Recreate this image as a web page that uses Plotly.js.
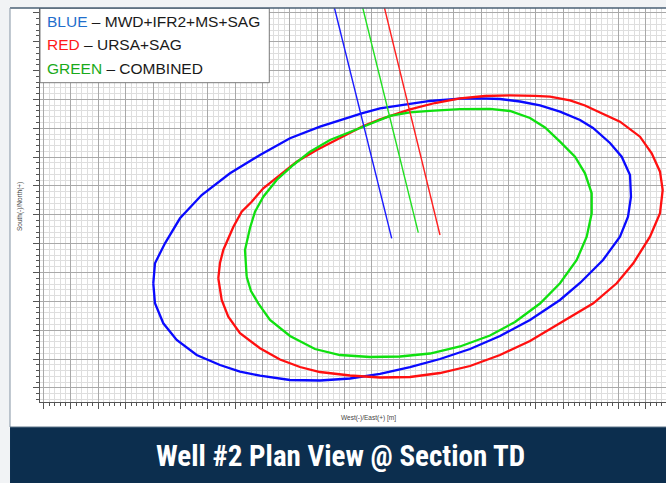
<!DOCTYPE html>
<html>
<head>
<meta charset="utf-8">
<script src="https://cdn.plot.ly/plotly-3.0.1.min.js"></script>
<style>html,body{margin:0;padding:0;background:#fff;}#chart{width:666px;height:483px;}</style>
</head>
<body>
<div id="chart"></div>
<script>
// Ellipse of uncertainty – BLUE (MWD+IFR2+MS+SAG), metres
var blueX = [-79.91,-79.29,-75.63,-72.60,-70.15,-62.21,-51.86,-40.90,-29.93,-18.96,-3.71,2.98,9.09,21.26,32.23,39.54,46.86,54.17,61.48,68.79,76.11,80.86,87.07,91.35,94.39,94.75,93.66,90.73,84.52,76.11,68.79,57.82,46.86,35.89,24.92,13.95,2.98,-7.99,-18.96,-29.93,-40.90,-48.21,-55.52,-64.04,-71.35,-76.25,-79.29,-79.91];
var blueY = [-13.74,-6.81,0.12,4.73,8.79,16.86,24.38,30.73,36.52,40.54,45.18,46.92,47.71,49.45,50.24,50.38,50.14,49.27,47.89,45.74,42.86,40.09,34.89,30.14,23.80,16.27,9.34,2.41,-5.67,-13.64,-19.53,-26.46,-32.01,-36.52,-39.98,-42.76,-45.18,-46.74,-47.43,-47.26,-45.77,-44.38,-42.06,-38.60,-33.40,-27.61,-20.68,-13.74];
// RED (URSA+SAG)
var redX = [-56.14,-55.52,-54.31,-52.60,-50.66,-47.59,-43.93,-39.69,-33.58,-27.48,-20.16,-11.65,-3.13,2.98,13.95,23.09,32.23,41.37,50.51,59.65,65.14,72.45,77.93,83.42,90.73,98.04,102.32,105.36,106.34,105.36,101.70,95.59,89.52,80.97,68.79,57.82,46.86,35.89,24.92,13.95,2.98,-7.99,-18.96,-26.27,-33.58,-40.90,-48.21,-52.49,-54.90,-56.14];
var redY = [-12.01,-6.71,-2.20,1.61,5.77,11.07,14.54,19.19,23.80,28.41,32.46,36.52,40.78,43.10,46.57,48.75,50.38,51.18,51.42,51.25,50.94,49.62,47.89,45.46,42.27,37.07,31.32,24.94,18.60,10.52,2.41,-6.81,-13.74,-20.68,-27.61,-33.74,-38.60,-42.41,-44.84,-46.22,-46.40,-45.70,-44.49,-42.76,-40.16,-36.27,-31.07,-25.32,-19.53,-12.01];
// GREEN (COMBINED)
var greenX = [-45.76,-46.38,-44.55,-42.72,-39.69,-34.79,-28.72,-22.61,-15.30,-7.99,-0.68,6.64,13.95,21.26,32.23,43.20,50.51,57.82,63.31,68.79,74.28,77.93,80.38,80.38,78.56,74.90,68.79,61.48,52.34,43.20,32.23,21.26,10.29,-0.68,-11.65,-20.79,-29.93,-37.24,-41.52,-44.19,-45.76];
var greenY = [-11.46,-2.20,5.42,11.07,16.27,22.06,27.26,31.87,35.93,38.60,41.47,44.25,45.53,46.05,46.60,46.74,45.98,43.55,40.26,35.34,30.14,24.38,17.45,10.52,2.41,-5.67,-13.74,-20.75,-27.16,-31.84,-35.65,-38.08,-39.12,-39.29,-38.60,-36.52,-32.01,-26.46,-20.68,-16.41,-11.46];
// Well paths (plan view)
var blueWellX = [-13.66, 7.26], blueWellY = [81.68, 1.85];
var greenWellX = [-3.31, 16.98], greenWellY = [81.68, 3.80];
var redWellX = [4.63, 24.92], redWellY = [81.68, 3.00];

var legendLines = [
  {name: 'BLUE', color: '#1f6fcc', rest: ' – MWD+IFR2+MS+SAG'},
  {name: 'RED', color: '#ff1a1a', rest: ' – URSA+SAG'},
  {name: 'GREEN', color: '#1aaa1a', rest: ' – COMBINED'}
];
var xTitle = 'West(-)/East(+) [m]';
var yTitle = 'South(-)/North(+)';
var bannerText = 'Well #2 Plan View @ Section TD';

var traces = [
  {x: blueX, y: blueY, mode: 'lines', line: {color: '#0a0aff', width: 2.3}},
  {x: redX, y: redY, mode: 'lines', line: {color: '#ff1010', width: 2.3}},
  {x: greenX, y: greenY, mode: 'lines', line: {color: '#10e010', width: 2.3}},
  {x: blueWellX, y: blueWellY, mode: 'lines', line: {color: '#1a1aff', width: 1.4}},
  {x: greenWellX, y: greenWellY, mode: 'lines', line: {color: '#20e020', width: 1.4}},
  {x: redWellX, y: redWellY, mode: 'lines', line: {color: '#ff2020', width: 1.4}}
];

var axisCommon = {
  showticklabels: false, zeroline: false, showline: true, linecolor: '#555', linewidth: 1,
  ticks: 'outside', ticklen: 6, tickcolor: '#555', tickwidth: 1,
  dtick: 10, tick0: 0, gridcolor: '#a9a9a9', gridwidth: 1, showgrid: true,
  minor: {dtick: 2, tick0: 0, showgrid: true, gridcolor: '#dedede', gridwidth: 1, ticks: 'outside', ticklen: 3, tickcolor: '#555'},
  fixedrange: true
};

var ann = [];
var ly = [0.9652, 0.9061, 0.8469];
legendLines.forEach(function (l, i) {
  ann.push({xref: 'paper', yref: 'paper', x: 0.008, y: ly[i], xanchor: 'left', yanchor: 'middle', showarrow: false,
    text: '<span style="color:' + l.color + '">' + l.name + '</span>' + l.rest,
    font: {family: 'Liberation Sans, Arial, sans-serif', size: 15.5, color: '#1a1a1a'}});
});
ann.push({xref: 'paper', yref: 'paper', x: 0.524, y: -0.0406, xanchor: 'center', yanchor: 'middle', showarrow: false,
  text: xTitle, font: {family: 'Liberation Sans, Arial, sans-serif', size: 6.5, color: '#444'}});
ann.push({xref: 'paper', yref: 'paper', x: -0.0319, y: 0.4949, xanchor: 'center', yanchor: 'middle', showarrow: false, textangle: -90,
  text: yTitle, font: {family: 'Liberation Sans, Arial, sans-serif', size: 6.5, color: '#444'}});
ann.push({xref: 'paper', yref: 'paper', x: 0.4808, y: -0.137, xanchor: 'center', yanchor: 'middle', showarrow: false,
  text: '<b>' + bannerText + '</b>', font: {family: 'Liberation Sans Narrow, Roboto Condensed, DejaVu Sans Condensed, Roboto, sans-serif', size: 29, color: '#ffffff'}});

var shapes = [
  // legend box
  {type: 'rect', xref: 'paper', yref: 'paper', x0: 0, x1: 0.3663, y0: 0.8104, y1: 0.9995, fillcolor: '#ffffff', line: {color: '#7a7a7a', width: 1}, layer: 'above'},
  // page frame: grey strips
  {type: 'rect', xref: 'paper', yref: 'paper', x0: -0.07, x1: 1.01, y0: 1.0, y1: 1.03, fillcolor: '#f1f3f5', line: {width: 0}, layer: 'above'},
  {type: 'rect', xref: 'paper', yref: 'paper', x0: -0.07, x1: -0.0479, y0: -0.21, y1: 1.03, fillcolor: '#f1f3f5', line: {width: 0}, layer: 'above'},
  {type: 'line', xref: 'paper', yref: 'paper', x0: -0.0479, x1: 1.01, y0: 1.0, y1: 1.0, line: {color: '#4a6075', width: 1.5}, layer: 'above'},
  {type: 'line', xref: 'paper', yref: 'paper', x0: -0.0479, x1: -0.0479, y0: 1.0, y1: -0.0635, line: {color: '#8393a3', width: 1}, layer: 'above'},
  // banner
  {type: 'rect', xref: 'paper', yref: 'paper', x0: -0.0479, x1: 1.01, y0: -0.0635, y1: -0.21, fillcolor: '#0c2e4e', line: {width: 0}, layer: 'above'},
  {type: 'line', xref: 'paper', yref: 'paper', x0: -0.0479, x1: 1.01, y0: -0.0635, y1: -0.0635, line: {color: '#5c7388', width: 1}, layer: 'above'}
];

var layout = {
  width: 666, height: 483,
  margin: {l: 40, r: 0, t: 8, b: 81, pad: 0},
  paper_bgcolor: '#ffffff', plot_bgcolor: '#ffffff',
  showlegend: false, hovermode: false,
  xaxis: Object.assign({range: [-121.33, 107.55]}, axisCommon),
  yaxis: Object.assign({range: [-54.89, 81.68]}, axisCommon),
  annotations: ann,
  shapes: shapes
};

Plotly.newPlot('chart', traces, layout, {displayModeBar: false, staticPlot: true});
</script>
</body>
</html>
